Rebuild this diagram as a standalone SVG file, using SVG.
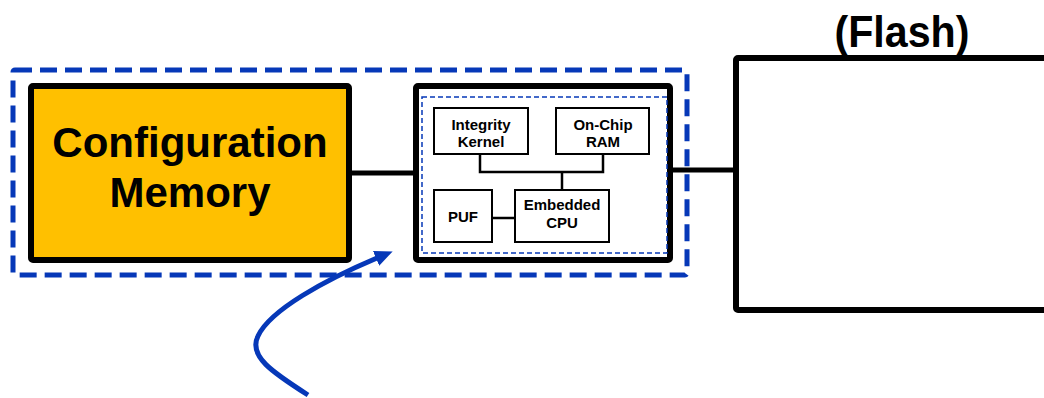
<svg xmlns="http://www.w3.org/2000/svg" width="1044" height="398" viewBox="0 0 1044 398">
  <style>
    .lbl { font-family: "Liberation Sans", Arial, Helvetica, sans-serif; font-weight: bold; fill: #000; text-anchor: middle; }
    .big { font-size: 42px; }
    .small { font-size: 15px; }
    .thick { fill: none; stroke: #000; stroke-width: 6; stroke-linejoin: round; }
    .thin { fill: #fff; stroke: #000; stroke-width: 2; }
    .wire { fill: none; stroke: #000; stroke-width: 5; }
    .bus { fill: none; stroke: #000; stroke-width: 2.5; }
    .trust { fill: none; stroke: #0638B8; stroke-width: 5; stroke-dasharray: 17 8; }
    .trust-in { fill: none; stroke: #0638B8; stroke-width: 1.5; stroke-dasharray: 5 3; }
  </style>
  <defs>
    <marker id="head" markerUnits="userSpaceOnUse" markerWidth="20" markerHeight="18" viewBox="0 0 20 18" refX="1" refY="8" orient="auto">
      <path d="M0,0 L18,8 L0,16 z" fill="#0638B8"/>
    </marker>
  </defs>

  <rect width="1044" height="398" fill="#fff"/>

  <!-- trust boundary around memory and controller -->
  <rect class="trust" x="13" y="70" width="674" height="205" rx="2"/>

  <g id="config-memory">
    <rect class="thick" x="31" y="86" width="318" height="174" rx="2" style="fill:#FFC000"/>
    <text class="lbl big" x="190" y="157">Configuration</text>
    <text class="lbl big" x="190" y="207">Memory</text>
  </g>

  <g id="controller">
    <rect class="thick" x="416" y="86" width="254" height="174" rx="2" style="fill:#fff"/>
    <rect class="trust-in" x="422" y="97" width="245" height="156"/>
  </g>

  <g id="flash">
    <rect class="thick" x="736" y="58" width="330" height="252" rx="2" style="fill:#fff"/>
    <text class="lbl" x="902" y="47" font-size="44" textLength="135" lengthAdjust="spacingAndGlyphs">(Flash)</text>
  </g>

  <!-- connectors -->
  <g id="connectors">
    <line class="wire" x1="351" y1="173" x2="414" y2="173"/>
    <line class="wire" x1="672" y1="170" x2="734" y2="170"/>
    <path class="bus" d="M480 154 V172 H603 V154"/>
    <path class="bus" d="M562 172 V190"/>
    <path class="bus" d="M492 218 H515" stroke-width="3"/>
    <path d="M308 395 C272 372, 248 356, 258 336 C270 310, 325 280, 377 258" fill="none" stroke="#0638B8" stroke-width="5" marker-end="url(#head)"/>
  </g>

  <g id="integrity-kernel">
    <rect class="thin" x="434" y="108" width="94" height="46"/>
    <text class="lbl small" x="481" y="130">Integrity</text>
    <text class="lbl small" x="481" y="147">Kernel</text>
  </g>

  <g id="on-chip-ram">
    <rect class="thin" x="556" y="108" width="93" height="46"/>
    <text class="lbl small" x="603" y="130">On-Chip</text>
    <text class="lbl small" x="603" y="147">RAM</text>
  </g>

  <g id="puf">
    <rect class="thin" x="434" y="190" width="58" height="52"/>
    <text class="lbl small" x="463" y="222">PUF</text>
  </g>

  <g id="embedded-cpu">
    <rect class="thin" x="515" y="190" width="94" height="52"/>
    <text class="lbl small" x="562" y="210">Embedded</text>
    <text class="lbl small" x="562" y="228">CPU</text>
  </g>
</svg>
